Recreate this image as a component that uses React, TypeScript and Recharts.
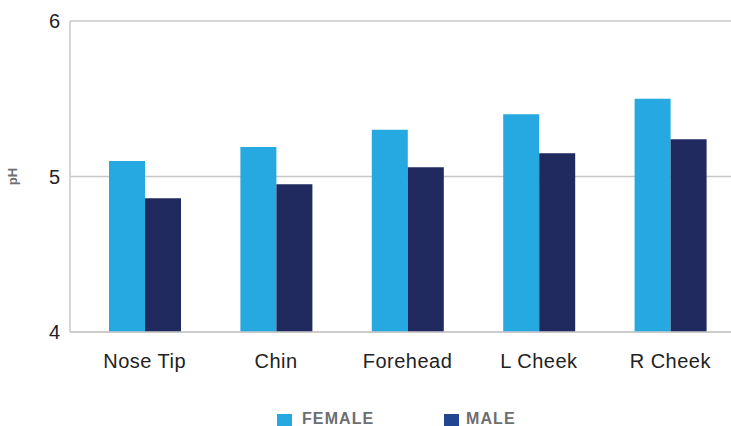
import React from "react";
import { BarChart, Bar, XAxis, YAxis, CartesianGrid, Label } from "recharts";

const categories = ["Nose Tip", "Chin", "Forehead", "L Cheek", "R Cheek"];
const femaleValues = [5.1, 5.19, 5.3, 5.4, 5.5];
const maleValues = [4.86, 4.95, 5.06, 5.15, 5.24];
const yTicks = [4, 5, 6];

const data = categories.map((c, i) => ({ name: c, female: femaleValues[i], male: maleValues[i] }));

const FONT = "'Liberation Sans', Arial, Helvetica, sans-serif";

const legendText: React.CSSProperties = {
  position: "absolute",
  top: 410,
  lineHeight: "18px",
  fontFamily: FONT,
  fontWeight: "bold",
  fontSize: 16,
  letterSpacing: 1.1,
  color: "#6d6e71",
  whiteSpace: "nowrap",
};

export default function App() {
  return (
    <div style={{ position: "absolute", left: 0, top: 0, width: 731, height: 426, overflow: "hidden", background: "#fff", fontFamily: FONT }}>
      <BarChart
        width={740}
        height={426}
        data={data}
        margin={{ top: 21, right: 4, bottom: 54, left: 0 }}
        barGap={0}
        barSize={36}
      >
        <CartesianGrid vertical={false} stroke="#c8c8c8" strokeWidth={1.5} />
        <XAxis
          dataKey="name"
          height={40}
          padding={{ left: 9, right: 0 }}
          tickLine={false}
          axisLine={{ stroke: "#c8c8c8", strokeWidth: 1.5 }}
          tick={{ fill: "#222", fontSize: 20, fontFamily: FONT, letterSpacing: 0.5 }}
          tickMargin={16}
          interval={0}
        />
        <YAxis
          width={70}
          domain={[4, 6]}
          ticks={yTicks}
          tickLine={false}
          axisLine={{ stroke: "#c8c8c8", strokeWidth: 1.5 }}
          tick={{ fill: "#222", fontSize: 20, fontFamily: FONT }}
          tickMargin={4}
        >
          <Label
            value="pH"
            angle={-90}
            position="insideLeft"
            offset={12}
            style={{ fill: "#6d6e71", fontSize: 13, fontWeight: "bold", fontFamily: FONT, textAnchor: "middle" }}
          />
        </YAxis>
        <Bar dataKey="female" fill="#25a9e0" isAnimationActive={false} />
        <Bar dataKey="male" fill="#202a5e" isAnimationActive={false} />
      </BarChart>
      <span style={{ position: "absolute", left: 277, top: 414, width: 15, height: 15, background: "#25a9e0" }} />
      <span style={{ ...legendText, left: 302 }}>FEMALE</span>
      <span style={{ position: "absolute", left: 444, top: 414, width: 15, height: 15, background: "#21468f" }} />
      <span style={{ ...legendText, left: 466 }}>MALE</span>
    </div>
  );
}
